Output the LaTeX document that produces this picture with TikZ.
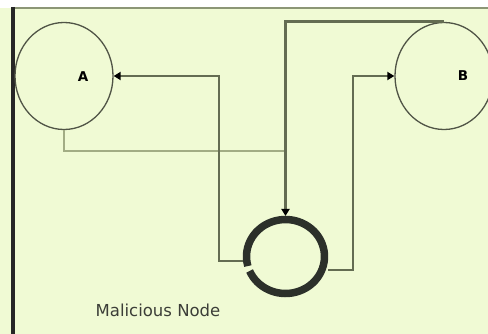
\documentclass[tikz,border=0pt]{standalone}
\usepackage{fontspec}
\newfontfamily\diagfont{DejaVu Sans}
\usetikzlibrary{arrows.meta,shapes.geometric}

\definecolor{bgpaper}{RGB}{240,250,212}
\definecolor{edgegreen}{RGB}{140,150,118}
\definecolor{linkgreen}{RGB}{100,108,82}
\definecolor{thingreen}{RGB}{162,172,132}
\definecolor{ringdark}{RGB}{44,48,42}
\definecolor{circgray}{RGB}{80,84,70}
\definecolor{textgray}{RGB}{60,62,56}

\begin{document}
\begin{tikzpicture}[x=1pt, y=-1pt, line cap=butt, line join=miter,
  peer/.style={ellipse, draw=circgray, line width=1.3pt, minimum width=98pt, minimum height=107pt, inner sep=0pt},
  malshape/.style={ellipse, minimum width=85pt, minimum height=81pt, inner sep=0pt, outer sep=0pt},
  link/.style={draw=linkgreen, line width=2.8pt},
  thinlink/.style={draw=thingreen, line width=1.7pt},
  tip/.style={-{Triangle[length=7pt,width=8pt,color=black]}},
  peerlbl/.style={inner sep=0pt, text=black, font=\diagfont\bfseries\fontsize{13.5}{16}\selectfont},
  caption/.style={inner sep=0pt, text=textgray, font=\diagfont\fontsize{16.5}{19}\selectfont}]

  %% ════ 底色与边框 ════
  \fill[bgpaper] (0,8) rectangle (488,334);
  \draw[edgegreen, line width=2pt] (12,8) -- (488,8);
  \draw[black!85, line width=4pt] (13,7) -- (13,334);

  %% ════ 节点 ════
  \node[peer] (nodeA) at (64,76) {};
  \node[peer] (nodeB) at (444,76) {};
  \node[malshape] (mal) at (285.5,256.5) {};
  % 环左下角留一个小缺口
  \draw[ringdark, line width=7.5pt] (mal.center) ++(165:39 and 37)
    arc[start angle=165, end angle=517, x radius=39, y radius=37];

  \node[peerlbl] (labA) at (83,77) {A};
  \node[peerlbl] (labB) at (463,76) {B};
  \node[caption] (malcap) at (158,310) {Malicious Node};

  %% ════ 连线 ════
  \coordinate (kA) at (219,261);
  \coordinate (kB) at (353,270);
  \coordinate (kMeet) at (mal.north |- 0,151);

  \draw[thinlink] (nodeA.south) |- (kMeet);
  \draw[link, tip] (mal.west |- kA) -- (kA) |- (nodeA.east);
  \draw[link, tip] (mal.east |- kB) -- (kB) |- (nodeB.west);
  \draw[link, tip] (nodeB.north) -| (mal.north);

  % 钉死画布
  \pgfresetboundingbox
  \path[use as bounding box] (0,0) rectangle (488,334);
\end{tikzpicture}
\end{document}
